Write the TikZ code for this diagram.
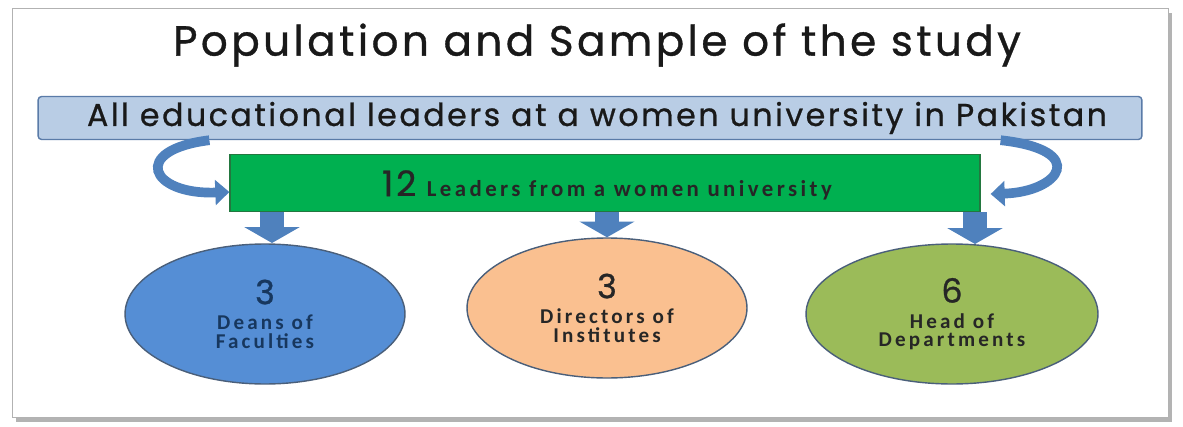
\documentclass[tikz,border=0pt]{standalone}
\usepackage{fontspec}
\setmainfont{Carlito}
\newfontfamily\gothic{Poppins}[LetterSpace=8]
\newfontfamily\gothicdark{Poppins}[LetterSpace=8, FakeBold=0.8]
\newfontfamily\widesans{Carlito}[LetterSpace=15]
\usetikzlibrary{arrows.meta,shadows,shapes.geometric}

\definecolor{barblue}{HTML}{B9CDE5}
\definecolor{barline}{HTML}{5A7BA8}
\definecolor{leadgreen}{HTML}{00B050}
\definecolor{leadline}{HTML}{23773F}
\definecolor{arrowblue}{HTML}{4F81BD}
\definecolor{deanblue}{HTML}{558ED5}
\definecolor{dirpeach}{HTML}{FAC090}
\definecolor{hodgreen}{HTML}{9BBB59}
\definecolor{rimline}{HTML}{4A5F7A}
\definecolor{navytext}{HTML}{17375E}

\begin{document}
\begin{tikzpicture}[x=0.02cm, y=-0.02cm,
    popbar/.style={rectangle, draw=barline, thick, fill=barblue, rounded corners=2pt, minimum width=22.08cm, minimum height=0.86cm, inner sep=0pt},
    leadbox/.style={rectangle, draw=leadline, thick, fill=leadgreen, minimum width=15cm, minimum height=1.14cm, inner sep=0pt},
    group/.style={ellipse, draw=rimline, thick, minimum width=5.6cm, minimum height=2.8cm, align=center, font=\widesans\bfseries\fontsize{12}{10.5}\selectfont},
    downarrow/.style={draw=arrowblue, line width=14pt, -{Triangle[width=31pt, length=9pt]}},
    bendarrow/.style={draw=arrowblue, line width=5.5pt, -{Triangle[width=14pt, length=8pt]}},
]
\useasboundingbox (0,0) rectangle (1183,426);
\draw[gray!60, fill=white, drop shadow={shadow xshift=2pt, shadow yshift=-3pt, opacity=0.6}] (12,8) rectangle (1168,417);

\node[font=\gothicdark\fontsize{24}{26}\selectfont, text=black!90] (title) at (597,45) {Population and Sample of the study};
\node[popbar] (pop) at (590,118) {};
\node[font=\gothicdark\fontsize{18}{20}\selectfont, text=black!90] (poptext) at (597,118) {All educational leaders at a women university in Pakistan};
\node[leadbox] (lead) at (605,183) {};
\node[text=black!85] (leadtext) at (607,185) {{\gothicdark\fontsize{20}{20}\selectfont 12}\hspace{6pt}{\widesans\bfseries\fontsize{13}{13}\selectfont Leaders from a women university}};

\node[group, fill=deanblue, text=navytext] (dean) at (265,314) {{\gothicdark\mdseries\fontsize{19}{20}\selectfont 3}\\[4pt]Deans of\\Faculties};
\node[group, fill=dirpeach, text=black!85] (dir) at (607,308) {{\gothicdark\mdseries\fontsize{19}{20}\selectfont 3}\\[4pt]Directors of\\Institutes};
\node[group, fill=hodgreen, minimum width=5.84cm, text=black!85] (hod) at (952,314) {{\gothicdark\mdseries\fontsize{19}{20}\selectfont 6}\\[4pt]Head of\\Departments};

\coordinate (d1) at (272,243);
\coordinate (d3) at (975,244);
\draw[downarrow] (lead.south -| d1) -- (d1);
\draw[downarrow] (lead.south -| dir.north) -- (dir.north);
\draw[downarrow] (lead.south -| d3) -- (d3);

\draw[bendarrow] ([xshift=-0.4cm]pop.south -| lead.west) .. controls (130,150) and (150,195) .. ([yshift=-0.18cm]lead.west);
\draw[bendarrow] ([xshift=0.4cm]pop.south -| lead.east) .. controls (1090,150) and (1060,192) .. ([yshift=-0.22cm, xshift=0.2cm]lead.east);
\end{tikzpicture}
\end{document}
